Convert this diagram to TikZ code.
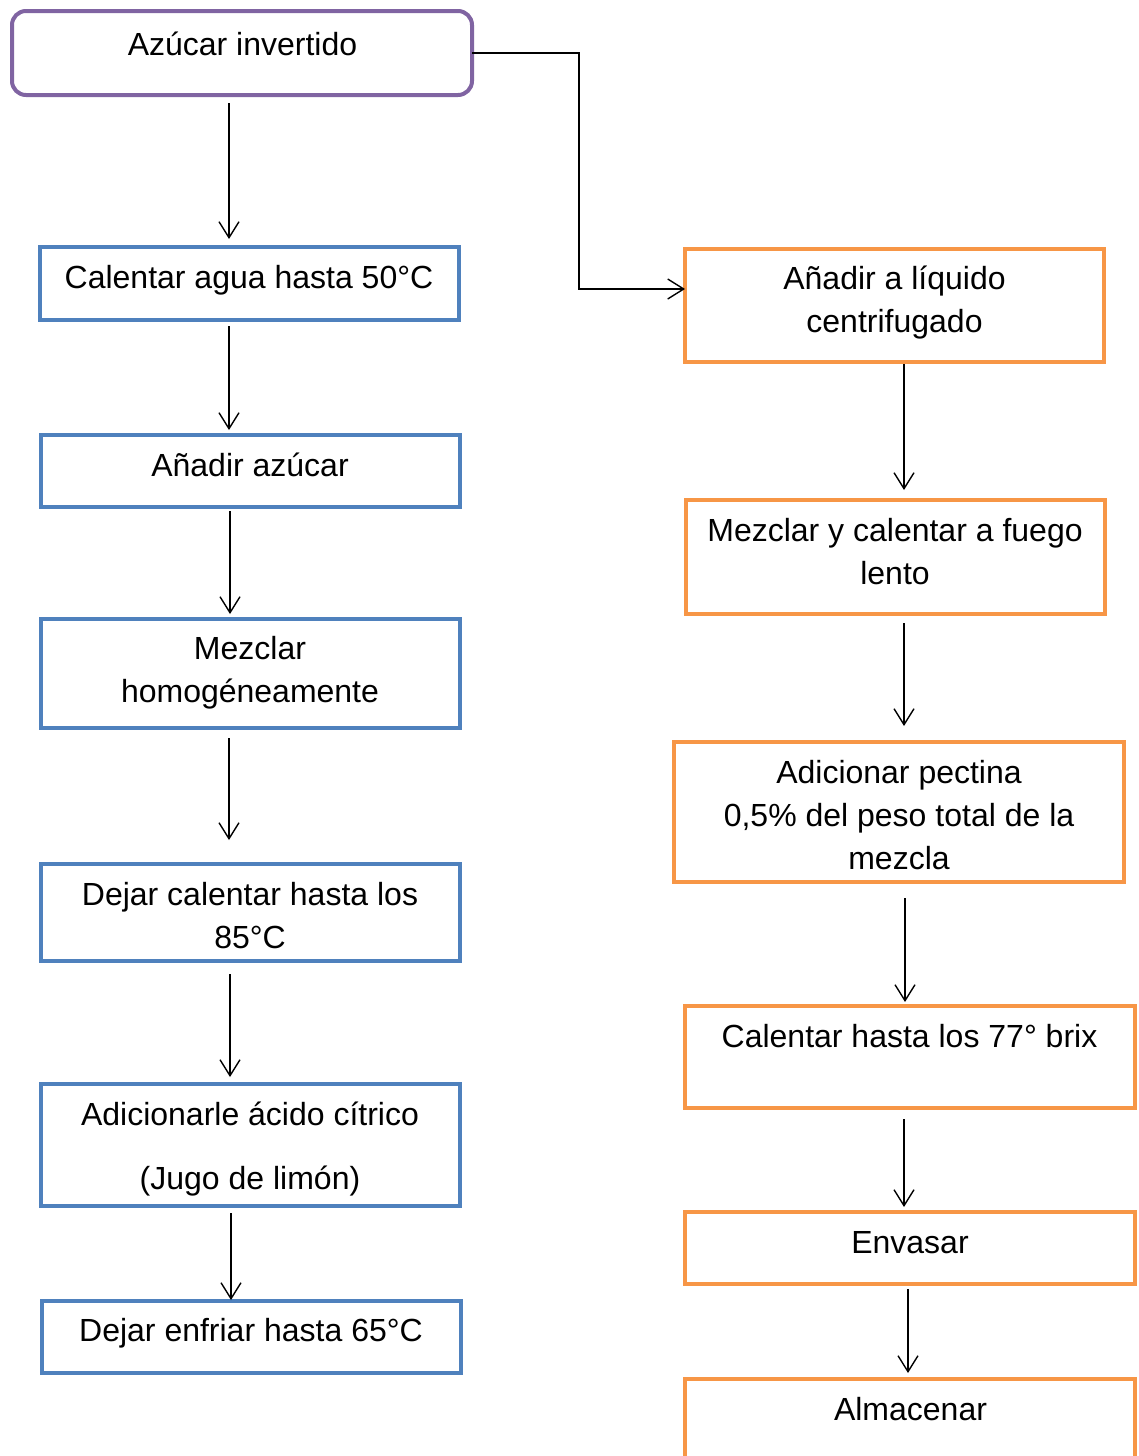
\documentclass[tikz,border=0pt]{standalone}
\usepackage{fontspec}
\setmainfont{Liberation Sans}
\usetikzlibrary{arrows.meta}
\definecolor{cpurple}{HTML}{8064A2}
\definecolor{cblue}{HTML}{4F81BD}
\definecolor{corange}{HTML}{F79646}
\begin{document}
\begin{tikzpicture}[x=1pt,y=-1pt,
  boxbase/.style={rectangle, line width=4pt, inner sep=0pt, outer sep=0pt},
  startbox/.style={boxbase, draw=cpurple, rounded corners=14pt},
  bluebox/.style={boxbase, draw=cblue},
  orangebox/.style={boxbase, draw=corange},
  txt/.style={anchor=north, inner sep=0pt, align=center, font=\fontsize{32}{43}\selectfont},
  arr/.style={-{Straight Barb[length=16pt,width=20pt,line width=1.4pt]}, line width=1.4pt, black}]
\useasboundingbox (0,0) rectangle (1138,1456);
% boxes
\node[startbox, minimum width=460, minimum height=84] (a) at (242,53) {};
\node[bluebox, minimum width=419, minimum height=73] (b1) at (249.5,283.5) {};
\node[bluebox, minimum width=419, minimum height=72] (b2) at (250.5,471) {};
\node[bluebox, minimum width=419, minimum height=109] (b3) at (250.5,673.5) {};
\node[bluebox, minimum width=419, minimum height=97] (b4) at (250.5,912.5) {};
\node[bluebox, minimum width=419, minimum height=122] (b5) at (250.5,1145) {};
\node[bluebox, minimum width=419, minimum height=72] (b6) at (251.5,1337) {};
\node[orangebox, minimum width=419, minimum height=113] (o1) at (894.5,305.5) {};
\node[orangebox, minimum width=419, minimum height=114] (o2) at (895.5,557) {};
\node[orangebox, minimum width=450, minimum height=140] (o3) at (899,812) {};
\node[orangebox, minimum width=450, minimum height=102] (o4) at (910,1057) {};
\node[orangebox, minimum width=450, minimum height=72] (o5) at (910,1248) {};
\node[orangebox, minimum width=450, minimum height=109] (o6) at (910,1433.5) {};
% texts
\node[txt] (ta) at (242.5,25) {\strut Azúcar invertido};
\node[txt] (tb1) at (249,258) {\strut Calentar agua hasta 50°C};
\node[txt] (tb2) at (250,446) {\strut Añadir azúcar};
\node[txt] (tb3) at (250,629) {\strut Mezclar\\\strut homogéneamente};
\node[txt] (tb4) at (250,875) {\strut Dejar calentar hasta los\\\strut 85°C};
\node[txt] (tb5) at (250,1095) {\strut Adicionarle ácido cítrico\\[21pt]\strut (Jugo de limón)};
\node[txt] (tb6) at (251,1311) {\strut Dejar enfriar hasta 65°C};
\node[txt] (to1) at (894.5,259) {\strut Añadir a líquido\\\strut centrifugado};
\node[txt] (to2) at (895,511) {\strut Mezclar y calentar a fuego\\\strut lento};
\node[txt] (to3) at (899,753) {\strut Adicionar pectina\\\strut 0,5\% del peso total de la\\\strut mezcla};
\node[txt] (to4) at (909.5,1017) {\strut Calentar hasta los 77° brix};
\node[txt] (to5) at (910,1223) {\strut Envasar};
\node[txt] (to6) at (910.5,1390) {\strut Almacenar};
% arrow x positions
\coordinate (x1) at (229,0);
\coordinate (x2) at (229,0);
\coordinate (x3) at (230,0);
\coordinate (x4) at (229,0);
\coordinate (x5) at (230,0);
\coordinate (x6) at (231,0);
\coordinate (y1) at (904,0);
\coordinate (y2) at (904,0);
\coordinate (y3) at (905,0);
\coordinate (y4) at (904,0);
\coordinate (y5) at (908,0);
\coordinate (elbow) at (579,289);
% connectors
\draw[arr, shorten <=8pt, shorten >=8pt] (a.south -| x1) -- (b1.north -| x1);
\draw[arr, shorten <=6pt, shorten >=5pt] (b1.south -| x2) -- (b2.north -| x2);
\draw[arr, shorten <=4pt, shorten >=5pt] (b2.south -| x3) -- (b3.north -| x3);
\draw[arr, shorten <=10pt, shorten >=24pt] (b3.south -| x4) -- (b4.north -| x4);
\draw[arr, shorten <=13pt, shorten >=7pt] (b4.south -| x5) -- (b5.north -| x5);
\draw[arr, shorten <=7pt, shorten >=1pt] (b5.south -| x6) -- (b6.north -| x6);
\draw[arr] (a.east) -| (elbow) -- (elbow -| o1.west);
\draw[arr, shorten <=2pt, shorten >=10pt] (o1.south -| y1) -- (o2.north -| y1);
\draw[arr, shorten <=9pt, shorten >=16pt] (o2.south -| y2) -- (o3.north -| y2);
\draw[arr, shorten <=16pt, shorten >=4pt] (o3.south -| y3) -- (o4.north -| y3);
\draw[arr, shorten <=11pt, shorten >=5pt] (o4.south -| y4) -- (o5.north -| y4);
\draw[arr, shorten <=5pt, shorten >=6pt] (o5.south -| y5) -- (o6.north -| y5);
\end{tikzpicture}
\end{document}
